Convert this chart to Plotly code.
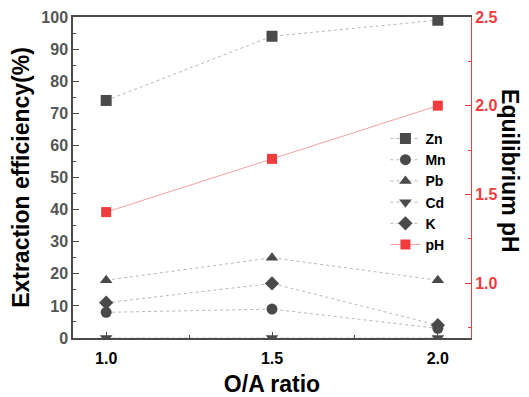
import plotly.graph_objects as go

oa_ratio = [1.0, 1.5, 2.0]
zn = [74, 94, 99]
mn = [8, 9, 3]
pb = [18, 25, 18]
cd = [0, 0, 0]
k = [11, 17, 4]
ph = [1.4, 1.7, 2.0]

gray = "#4a4a4a"
red = "#f03c3c"
FONT = "Liberation Sans, Arial, sans-serif"

fig = go.Figure()
series = [("Zn", zn, "square"), ("Mn", mn, "circle"), ("Pb", pb, "triangle-up"),
          ("Cd", cd, "triangle-down"), ("K", k, "diamond")]
for name, vals, sym in series:
    fig.add_trace(go.Scatter(
        x=oa_ratio, y=vals, name=name, mode="lines+markers",
        line=dict(color="#b8b8b8", width=1, dash="dot"),
        marker=dict(symbol=sym, size=11, color=gray, line=dict(width=0)),
    ))
fig.add_trace(go.Scatter(
    x=oa_ratio, y=ph, name="pH", mode="lines+markers", yaxis="y2",
    line=dict(color="#f6a0a0", width=1),
    marker=dict(symbol="square", size=10, color=red, line=dict(width=0)),
))

# page body has an 8px default margin, so the figure is 8px smaller and margins shifted
fig.update_layout(
    width=521, height=389,
    margin=dict(l=65, r=58, t=9, b=59, autoexpand=False),
    paper_bgcolor="white", plot_bgcolor="white",
    font=dict(family=FONT, color="black"),
    showlegend=True,
    legend=dict(x=0.785, y=0.67, xanchor="left", yanchor="top",
                bgcolor="rgba(0,0,0,0)", font=dict(size=14, weight="bold", color="black"),
                tracegroupgap=0, itemsizing="trace"),
    xaxis=dict(
        range=[0.9, 2.1], tickvals=oa_ratio, ticktext=["1.0", "1.5", "2.0"],
        ticks="inside", ticklen=6, tickcolor=gray, showgrid=False, zeroline=False,
        showline=True, linecolor=gray, linewidth=1.5, mirror=True, automargin=False,
        tickfont=dict(size=16, weight="bold", color="black"), ticklabelstandoff=5,
        minor=dict(ticks="inside", ticklen=3, tickcolor=gray, dtick=0.25, tick0=0.75),
        title=dict(text="O/A ratio", font=dict(size=23, weight="bold", color="black"), standoff=17),
    ),
    yaxis=dict(
        range=[0, 100], dtick=10, ticks="inside", ticklen=6, tickcolor=gray,
        showgrid=False, zeroline=False, showline=True, linecolor=gray, linewidth=1.5,
        automargin=False,
        tickfont=dict(size=16, weight="bold", color="#555555"),
        minor=dict(ticks="inside", ticklen=3, tickcolor=gray, dtick=5),
        title=dict(text="Extraction efficiency(%)", font=dict(size=23, weight="bold", color="black"), standoff=10),
    ),
    yaxis2=dict(
        overlaying="y", side="right", range=[0.69, 2.5],
        tickvals=[1.0, 1.5, 2.0, 2.5], ticktext=["1.0", "1.5", "2.0", "2.5"],
        ticks="inside", ticklen=6, tickcolor=red, showgrid=False, zeroline=False,
        showline=True, linecolor=red, linewidth=1, automargin=False,
        tickfont=dict(size=16, weight="bold", color=red),
        minor=dict(ticks="inside", ticklen=3, tickcolor=red, dtick=0.25, tick0=0.75),
    ),
    annotations=[dict(
        text="Equilibrium pH", xref="paper", yref="paper", x=1.098, y=0.52,
        xanchor="center", yanchor="middle", textangle=90, showarrow=False,
        font=dict(size=23, weight="bold", color="black"),
    )],
)

fig.write_html("out.html")
